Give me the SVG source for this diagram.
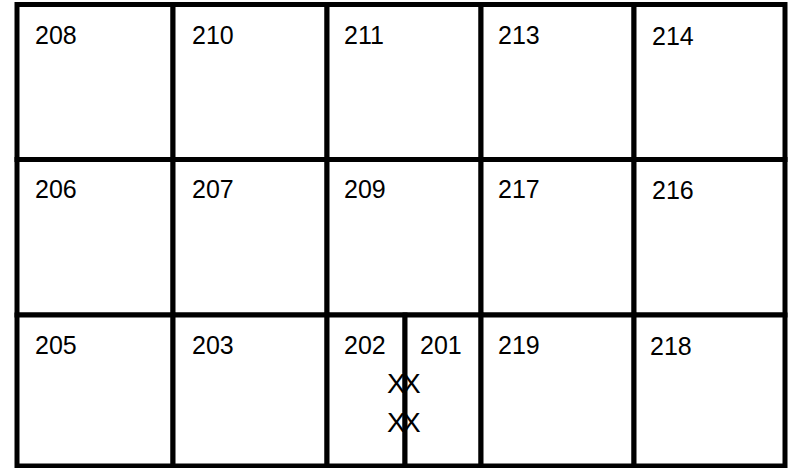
<svg xmlns="http://www.w3.org/2000/svg" width="796" height="468" viewBox="0 0 796 468">
<style>
.cell{fill:#fff;stroke:#000;stroke-width:5}
.lbl{font-family:"Liberation Sans",Arial,sans-serif;font-size:25px;fill:#000}
.x{font-family:"Liberation Sans",Arial,sans-serif;font-size:28px;fill:#000;letter-spacing:-3.7px}
</style>
<rect width="796" height="468" fill="#fff"/>
<g id="r208"><rect class="cell" x="17" y="4.5" width="156" height="155"/><text class="lbl" x="35" y="44">208</text></g>
<g id="r210"><rect class="cell" x="173" y="4.5" width="154" height="155"/><text class="lbl" x="192" y="44">210</text></g>
<g id="r211"><rect class="cell" x="327" y="4.5" width="154" height="155"/><text class="lbl" x="344" y="44">211</text></g>
<g id="r213"><rect class="cell" x="481" y="4.5" width="153" height="155"/><text class="lbl" x="498" y="44">213</text></g>
<g id="r214"><rect class="cell" x="634" y="4.5" width="151" height="155"/><text class="lbl" x="652" y="45">214</text></g>
<g id="r206"><rect class="cell" x="17" y="159.5" width="156" height="155.5"/><text class="lbl" x="35" y="198">206</text></g>
<g id="r207"><rect class="cell" x="173" y="159.5" width="154" height="155.5"/><text class="lbl" x="192" y="198">207</text></g>
<g id="r209"><rect class="cell" x="327" y="159.5" width="154" height="155.5"/><text class="lbl" x="344" y="198">209</text></g>
<g id="r217"><rect class="cell" x="481" y="159.5" width="153" height="155.5"/><text class="lbl" x="498" y="198">217</text></g>
<g id="r216"><rect class="cell" x="634" y="159.5" width="151" height="155.5"/><text class="lbl" x="652" y="199">216</text></g>
<g id="r205"><rect class="cell" x="17" y="315" width="156" height="151"/><text class="lbl" x="35" y="354">205</text></g>
<g id="r203"><rect class="cell" x="173" y="315" width="154" height="151"/><text class="lbl" x="192" y="354">203</text></g>
<g id="r202"><rect class="cell" x="327" y="315" width="78" height="151"/><text class="lbl" x="344" y="354">202</text></g>
<g id="r201"><rect class="cell" x="405" y="315" width="76" height="151"/><text class="lbl" x="420" y="354">201</text></g>
<g id="r219"><rect class="cell" x="481" y="315" width="153" height="151"/><text class="lbl" x="498" y="354">219</text></g>
<g id="r218"><rect class="cell" x="634" y="315" width="151" height="151"/><text class="lbl" x="650" y="355">218</text></g>
<g id="connectors">
<text class="x" x="387" y="393">XX</text>
<text class="x" x="387" y="432">XX</text>
</g>
</svg>
